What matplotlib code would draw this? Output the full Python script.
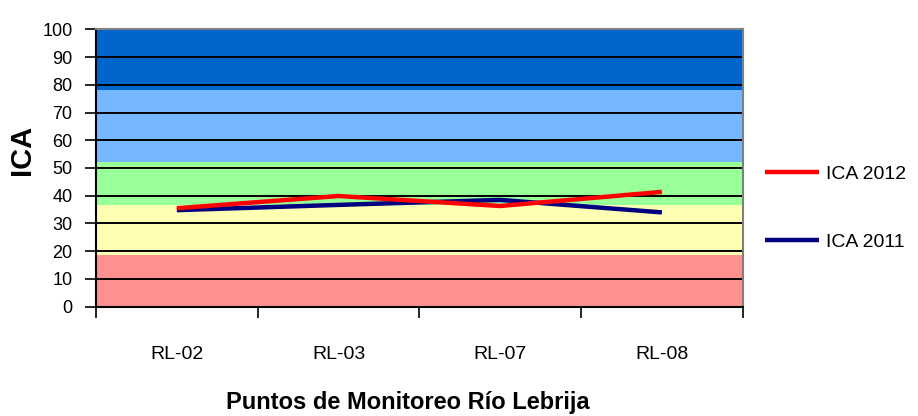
import matplotlib
matplotlib.use('Agg')
import matplotlib.pyplot as plt

puntos = ['RL-02', 'RL-03', 'RL-07', 'RL-08']
ica_2012 = [35.5, 39.9, 36.3, 41.4]
ica_2011 = [34.8, 36.7, 38.5, 34.0]

# rangos de calidad (limite inferior, limite superior, color)
rangos_ica = [0, 18.6, 36.7, 52, 78, 100]
colores_rangos = ['#FF9191', '#FFFFB3', '#99FF99', '#75B8FF', '#0066CC']

plt.rcParams['font.family'] = ['Liberation Sans', 'DejaVu Sans']

fig = plt.figure(figsize=(9.18, 4.16), dpi=100)
ax = fig.add_axes([96 / 918, 109.3 / 416, 646.7 / 918, 277.4 / 416])

for i, color in enumerate(colores_rangos):
    ax.axhspan(rangos_ica[i], rangos_ica[i + 1], color=color, lw=0, zorder=0)

for y in range(10, 100, 10):
    ax.axhline(y, color='black', lw=1.4, zorder=1)

x = list(range(len(puntos)))
l12, = ax.plot(x, ica_2012, color='#FF0000', lw=3.2, zorder=3, solid_capstyle='butt')
l11, = ax.plot(x, ica_2011, color='#000080', lw=3.2, zorder=2, solid_capstyle='butt')

ax.set_xlim(-0.5, len(puntos) - 0.5)
ax.set_ylim(0, 100)
ax.set_yticks(range(0, 101, 10))
ax.tick_params(axis='y', direction='out', length=8, width=1.2, pad=9, labelsize=13)
ax.set_xticks(x)
ax.set_xticklabels(puntos)
ax.set_xticks([i - 0.5 for i in range(len(puntos) + 1)], minor=True)
ax.tick_params(axis='x', which='major', length=0, pad=28, labelsize=14)
ax.tick_params(axis='x', which='minor', direction='out', length=8, width=1.2)

for s in ['left', 'bottom']:
    ax.spines[s].set_color('black')
    ax.spines[s].set_linewidth(1.5)
for s in ['top', 'right']:
    ax.spines[s].set_color('#808080')
    ax.spines[s].set_linewidth(1.5)

fig.text(22 / 918, 266 / 416, 'ICA', rotation=90, fontsize=21, fontweight='bold',
         ha='center', va='center')
fig.text(408 / 918, 13 / 416, 'Puntos de Monitoreo Río Lebrija', fontsize=17,
         fontweight='bold', ha='center', va='center')

fig.legend([l12, l11], ['ICA 2012', 'ICA 2011'], loc='center left',
           bbox_to_anchor=(747 / 918, 208 / 416), frameon=False, fontsize=14,
           handlelength=2.8, handletextpad=0.35, labelspacing=2.6)

fig.savefig('out.png', dpi=100)
